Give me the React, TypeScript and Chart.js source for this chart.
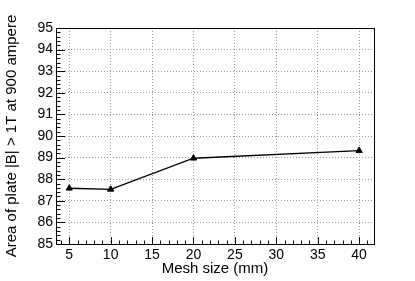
import React, { useEffect, useRef } from "react";
import { Chart, registerables } from "chart.js";

Chart.register(...registerables);

const meshSizes = [5, 10, 20, 40];
const areaValues = [87.58, 87.53, 88.97, 89.32];
const xTickValues = [5, 10, 15, 20, 25, 30, 35, 40];
const yTickValues = [85, 86, 87, 88, 89, 90, 91, 92, 93, 94, 95];
const xTitle = "Mesh size (mm)";
const yTitle = "Area of plate |B| > 1T at 900 ampere";

const FONT = "'Liberation Sans', Arial, Helvetica, sans-serif";

const framePlugin = {
  id: "rootFrame",
  afterDraw(chart: any) {
    const { ctx, chartArea } = chart;
    const xs = chart.scales.x;
    const ys = chart.scales.y;
    ctx.save();
    ctx.strokeStyle = "#000";
    ctx.lineWidth = 1;
    ctx.beginPath();
    for (let v = Math.ceil(xs.min); v <= xs.max; v += 1) {
      const px = Math.round(xs.getPixelForValue(v)) + 0.5;
      const len = v % 5 === 0 ? 7 : 3.5;
      ctx.moveTo(px, chartArea.bottom);
      ctx.lineTo(px, chartArea.bottom - len);
    }
    for (let i = 0; i <= 50; i++) {
      const v = ys.min + i * 0.2;
      const py = Math.round(ys.getPixelForValue(v)) + 0.5;
      const len = i % 5 === 0 ? 9 : 4.5;
      ctx.moveTo(chartArea.left, py);
      ctx.lineTo(chartArea.left + len, py);
    }
    ctx.stroke();
    ctx.strokeRect(
      Math.round(chartArea.left) + 0.5,
      Math.round(chartArea.top) + 0.5,
      Math.round(chartArea.right - chartArea.left),
      Math.round(chartArea.bottom - chartArea.top)
    );
    ctx.restore();
  },
};

export default function App() {
  const canvasRef = useRef<HTMLCanvasElement | null>(null);

  useEffect(() => {
    if (!canvasRef.current) return;
    const chart = new Chart(canvasRef.current, {
      type: "line",
      data: {
        datasets: [
          {
            data: meshSizes.map((x, i) => ({ x, y: areaValues[i] })),
            borderColor: "#000",
            backgroundColor: "#000",
            borderWidth: 1.3,
            pointStyle: "triangle",
            pointRadius: 3.6,
            pointBorderWidth: 1,
            pointBackgroundColor: "#000",
            pointBorderColor: "#000",
            tension: 0,
          },
        ],
      },
      options: {
        animation: false,
        responsive: true,
        maintainAspectRatio: false,
        layout: { padding: { left: 0, top: 28, right: 41, bottom: 0 } },
        plugins: {
          legend: { display: false },
          tooltip: { enabled: false },
        },
        scales: {
          x: {
            type: "linear",
            min: 3.4,
            max: 41.8,
            afterBuildTicks: (s: any) => {
              s.ticks = xTickValues.map((v) => ({ value: v }));
            },
            afterFit: (s: any) => {
              s.height = 37;
            },
            grid: {
              color: "#9a9a9a",
              lineWidth: 1,
              drawTicks: false,
            },
            border: { display: false, dash: [1, 2] },
            ticks: {
              color: "#000",
              padding: 3,
              font: { family: FONT, size: 14 },
              maxRotation: 0,
              autoSkip: false,
            },
            title: {
              display: true,
              text: xTitle,
              color: "#000",
              font: { family: FONT, size: 15 },
              padding: { top: 0, bottom: 3 },
            },
          },
          y: {
            type: "linear",
            min: 85,
            max: 95,
            afterBuildTicks: (s: any) => {
              s.ticks = yTickValues.map((v) => ({ value: v }));
            },
            afterFit: (s: any) => {
              s.width = 56;
            },
            grid: {
              color: "#9a9a9a",
              lineWidth: 1,
              drawTicks: false,
            },
            border: { display: false, dash: [1, 2] },
            ticks: {
              color: "#000",
              padding: 3,
              font: { family: FONT, size: 14 },
              autoSkip: false,
            },
            title: {
              display: true,
              text: yTitle,
              color: "#000",
              font: { family: FONT, size: 15 },
              padding: { top: 3, bottom: 0 },
            },
          },
        },
      },
      plugins: [framePlugin],
    });
    return () => chart.destroy();
  }, []);

  return (
    <div
      style={{
        position: "absolute",
        left: 0,
        top: 0,
        width: 415,
        height: 281,
        background: "#fff",
      }}
    >
      <canvas ref={canvasRef} />
    </div>
  );
}
